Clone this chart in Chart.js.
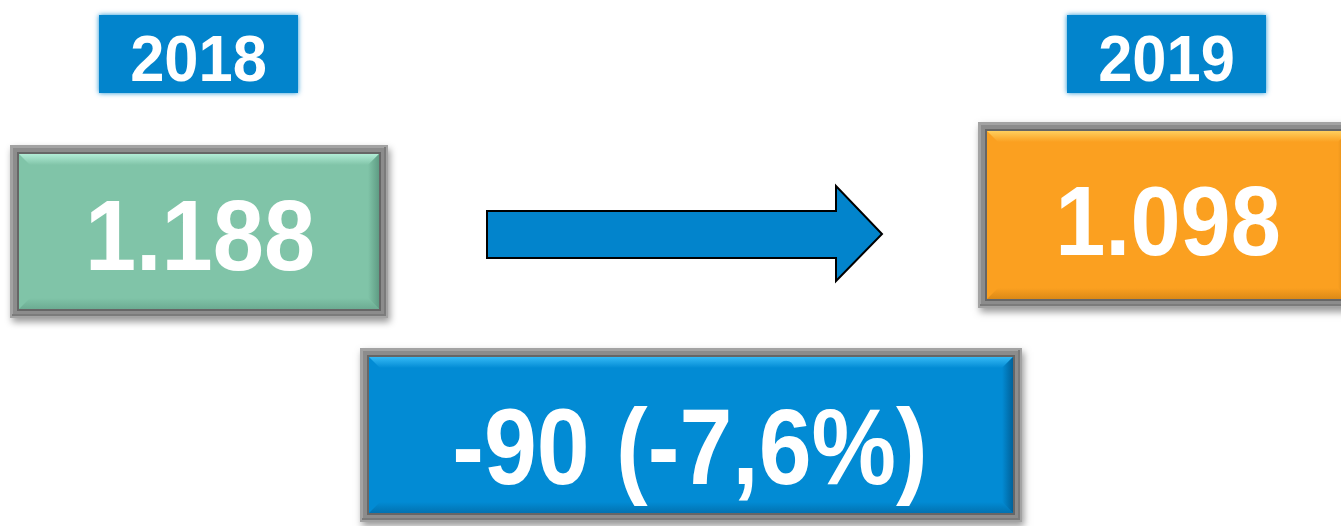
<!DOCTYPE html>
<html>
<head>
<meta charset="utf-8">
<script src="https://cdn.jsdelivr.net/npm/chart.js@4.4.1/dist/chart.umd.min.js"></script>
<style>
  html, body { margin: 0; padding: 0; background: #ffffff; overflow: hidden; }
  canvas { display: block; }
</style>
</head>
<body>
<canvas id="yearChart" width="1341" height="526"></canvas>
<script>
// values
const years = ['2018', '2019'];
const totals = [1188, 1098];

const diff = totals[1] - totals[0];
const pct = (diff / totals[0] * 100).toFixed(1).replace('.', ',');
const diffLabel = diff + ' (' + pct + '%)';
const fmt = v => v.toLocaleString('de-DE');

const FONT = '"Liberation Sans", Arial, sans-serif';

function bevelBox(ctx, x, y, w, h, fill, light, dark) {
  // drop shadow + gray frame
  ctx.save();
  ctx.shadowColor = 'rgba(0,0,0,0.4)';
  ctx.shadowBlur = 7;
  ctx.shadowOffsetX = 2;
  ctx.shadowOffsetY = 4;
  ctx.fillStyle = '#a3a3a3';
  ctx.fillRect(x, y, w, h);
  ctx.restore();
  // frame bevel
  ctx.fillStyle = '#8c8c8c';
  ctx.fillRect(x + 3, y + 3, w - 6, h - 6);
  ctx.fillStyle = '#7b7b7b';
  ctx.fillRect(x + w - 4, y + 2, 2, h - 4);
  ctx.fillRect(x + 2, y + h - 4, w - 4, 2);
  ctx.fillStyle = '#666666';
  ctx.fillRect(x + 7, y + 7, w - 14, h - 14);

  const ix = x + 9, iy = y + 9, iw = w - 18, ih = h - 18, b = 11;
  ctx.fillStyle = fill;
  ctx.fillRect(ix, iy, iw, ih);
  // top bevel (light)
  const g = ctx.createLinearGradient(0, iy, 0, iy + b);
  g.addColorStop(0, light);
  g.addColorStop(1, fill);
  ctx.fillStyle = g;
  ctx.beginPath();
  ctx.moveTo(ix, iy); ctx.lineTo(ix + iw, iy);
  ctx.lineTo(ix + iw - b, iy + b); ctx.lineTo(ix + b, iy + b);
  ctx.closePath(); ctx.fill();
  // right bevel (dark)
  const gr = ctx.createLinearGradient(ix + iw - b, 0, ix + iw, 0);
  gr.addColorStop(0, fill);
  gr.addColorStop(1, dark);
  ctx.fillStyle = gr;
  ctx.beginPath();
  ctx.moveTo(ix + iw, iy); ctx.lineTo(ix + iw, iy + ih);
  ctx.lineTo(ix + iw - b, iy + ih - b); ctx.lineTo(ix + iw - b, iy + b);
  ctx.closePath(); ctx.fill();
  // bottom bevel (slightly dark)
  const gb = ctx.createLinearGradient(0, iy + ih - b, 0, iy + ih);
  gb.addColorStop(0, fill);
  gb.addColorStop(1, dark);
  ctx.globalAlpha = 0.6;
  ctx.fillStyle = gb;
  ctx.beginPath();
  ctx.moveTo(ix, iy + ih); ctx.lineTo(ix + iw, iy + ih);
  ctx.lineTo(ix + iw - b, iy + ih - b); ctx.lineTo(ix + b, iy + ih - b);
  ctx.closePath(); ctx.fill();
  ctx.globalAlpha = 1;
}

function label(ctx, text, cx, cy, size, squeeze) {
  ctx.save();
  ctx.translate(cx, cy);
  ctx.scale(squeeze, 1);
  ctx.fillStyle = '#ffffff';
  ctx.font = 'bold ' + size + 'px ' + FONT;
  ctx.textAlign = 'center';
  ctx.textBaseline = 'alphabetic';
  ctx.fillText(text, 0, size * 0.358);
  ctx.restore();
}

function yearTag(ctx, text, x, y, w, h) {
  ctx.save();
  ctx.shadowColor = 'rgba(2,132,204,0.9)';
  ctx.shadowBlur = 5;
  ctx.fillStyle = '#0284cc';
  ctx.fillRect(x + 2, y + 2, w - 4, h - 4);
  ctx.restore();
  label(ctx, text, x + w / 2, y + h / 2 + 4, 64, 0.96);
}

const infographic = {
  id: 'infographic',
  afterDraw(chart) {
    const ctx = chart.ctx;
    ctx.save();
    ctx.fillStyle = '#ffffff';
    ctx.fillRect(0, 0, chart.width, chart.height);

    yearTag(ctx, years[0], 97, 13, 203, 82);
    yearTag(ctx, years[1], 1065, 13, 203, 82);

    bevelBox(ctx, 10, 145, 378, 173, '#80c4a8', '#b2ecd6', '#5f9c84');
    label(ctx, fmt(totals[0]), 200, 234, 100, 0.92);

    bevelBox(ctx, 978, 122, 380, 186, '#fba020', '#ffcf5e', '#c77a10');
    label(ctx, fmt(totals[1]), 1168, 220, 98, 0.92);

    // arrow
    ctx.beginPath();
    ctx.moveTo(487, 211); ctx.lineTo(836, 211); ctx.lineTo(836, 186);
    ctx.lineTo(882, 234); ctx.lineTo(836, 281); ctx.lineTo(836, 258);
    ctx.lineTo(487, 258); ctx.closePath();
    ctx.fillStyle = '#0284cc';
    ctx.fill();
    ctx.lineWidth = 2;
    ctx.strokeStyle = '#000000';
    ctx.stroke();

    bevelBox(ctx, 360, 348, 662, 174, '#028bd4', '#35b9f5', '#016199');
    label(ctx, diffLabel, 690, 445, 108, 0.88);
    ctx.restore();
  }
};

new Chart(document.getElementById('yearChart'), {
  type: 'bar',
  data: {
    labels: years,
    datasets: [{ label: 'Total', data: totals, backgroundColor: 'rgba(0,0,0,0)' }]
  },
  options: {
    responsive: false,
    animation: false,
    events: [],
    plugins: { legend: { display: false }, tooltip: { enabled: false } },
    scales: { x: { display: false }, y: { display: false, beginAtZero: true } }
  },
  plugins: [infographic]
});
</script>
</body>
</html>
